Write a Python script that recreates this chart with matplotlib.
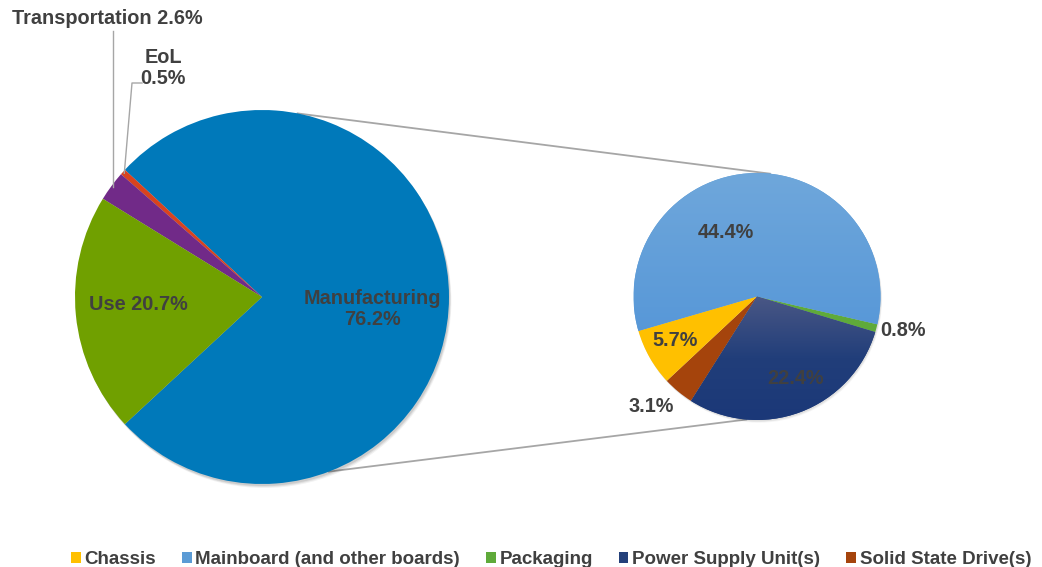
import matplotlib
matplotlib.use('Agg')
import matplotlib.pyplot as plt
import numpy as np
from matplotlib.patches import Circle, Patch
from matplotlib.colors import LinearSegmentedColormap

plt.rcParams['font.family'] = ['Liberation Sans', 'DejaVu Sans']

# ---------------- data ----------------
main_labels = ['Manufacturing', 'EoL', 'Transportation', 'Use']
main_values = [76.2, 0.5, 2.6, 20.7]
main_colors = ['#0079BA', '#D9431E', '#712A88', '#70A000']

sub_labels = ['Mainboard (and other boards)', 'Packaging', 'Power Supply Unit(s)',
              'Solid State Drive(s)', 'Chassis']
sub_values = [44.4, 0.8, 22.4, 3.1, 5.7]
sub_colors = ['#5B9BD5', '#5FAA3A', '#24407A', '#A5440C', '#FFC000']

legend_order = ['Chassis', 'Mainboard (and other boards)', 'Packaging',
                'Power Supply Unit(s)', 'Solid State Drive(s)']

TXT = '#404040'
LINE = '#A6A6A6'
FS = 14.3
FS_LEG = 13.5

W, H = 1042, 567
fig = plt.figure(figsize=(W / 100, H / 100), dpi=100)
ax = fig.add_axes([0, 0, 1, 1])
ax.set_autoscale_on(False)
ax.set_xlim(0, W)
ax.set_ylim(0, H)
ax.set_aspect('equal')
ax.axis('off')


def P(x, y):
    """pixel (top-left origin) -> data coords"""
    return (x, H - y)


L_c = P(262, 297)
L_r = 187
R_c = P(757, 296.5)
R_r = 123.5


def on_circle(c, r, ang, f=1.0):
    a = np.deg2rad(ang)
    return (c[0] + f * r * np.cos(a), c[1] + f * r * np.sin(a))


# connector lines (drawn first, beneath pies)
for la, ra in [(79, 84), (-69, -95)]:
    p1 = on_circle(L_c, L_r, la)
    p2 = on_circle(R_c, R_r, ra)
    ax.plot([p1[0], p2[0]], [p1[1], p2[1]], color=LINE, lw=1.3, zorder=1)

# soft shadows
for k, a in [(4, 0.05), (3, 0.07), (2, 0.09)]:
    ax.add_patch(Circle((L_c[0] + k * 0.6, L_c[1] - k), L_r, color='black',
                        alpha=a, lw=0, zorder=1.5))
    ax.add_patch(Circle((R_c[0] + k * 0.4, R_c[1] - k * 0.7), R_r, color='black',
                        alpha=a * 0.6, lw=0, zorder=1.5))

# ---------------- main pie ----------------
main_start = -main_values[0] / sum(main_values) * 360 / 2
wl, _ = ax.pie(main_values, colors=main_colors, startangle=main_start,
               center=L_c, radius=L_r, frame=True,
               wedgeprops=dict(linewidth=0, zorder=2))
for w in wl:
    w.set_zorder(2)

# ---------------- sub pie ----------------
sub_total = sum(sub_values)
sub_start = -13 + sub_values[0] / sub_total * 360
wr, _ = ax.pie(sub_values, colors=sub_colors, startangle=sub_start,
               counterclock=False, center=R_c, radius=R_r, frame=True,
               wedgeprops=dict(linewidth=0, zorder=2))
for w in wr:
    w.set_zorder(2)

# gradients on mainboard and PSU wedges
grad = np.linspace(0, 1, 256).reshape(-1, 1)
ext = [R_c[0] - R_r, R_c[0] + R_r, R_c[1] - R_r, R_c[1] + R_r]
cm_mb = LinearSegmentedColormap.from_list('mb', ['#4A8FD6', '#6FA7DB'])
im = ax.imshow(grad, cmap=cm_mb, extent=ext, origin='lower', aspect='auto',
               zorder=2.1, interpolation='bilinear')
im.set_clip_path(wr[0])
cm_psu = LinearSegmentedColormap.from_list('psu', ['#1B3878', '#213E7A', '#4A5785'])
ext2 = [R_c[0] - R_r, R_c[0] + R_r, R_c[1] - R_r, R_c[1]]
im2 = ax.imshow(grad, cmap=cm_psu, extent=ext2, origin='lower', aspect='auto',
                zorder=2.1, interpolation='bilinear')
im2.set_clip_path(wr[2])
ax.set_xlim(0, W)
ax.set_ylim(0, H)

tk = dict(fontsize=FS, fontweight='bold', color=TXT, ha='center', va='center',
          zorder=5, linespacing=1.1)

# ---------------- labels (main) ----------------
ax.text(*P(372, 309), f'{main_labels[0]}\n{main_values[0]}%', **tk)
ax.text(*P(138, 304), f'{main_labels[3]} {main_values[3]}%', **tk)
ax.text(*P(107, 19), f'{main_labels[2]} {main_values[2]}%', **tk)
ax.text(*P(163, 68), f'{main_labels[1]}\n{main_values[1]}%', **tk)

# leader lines
angs = np.cumsum([0] + main_values) / sum(main_values) * 360 + main_start
mid_tr = (angs[2] + angs[3]) / 2
mid_eol = (angs[1] + angs[2]) / 2
pt = on_circle(L_c, L_r, mid_tr, 0.99)
ax.plot([pt[0], pt[0]], [pt[1], P(0, 31)[1]], color=LINE, lw=1, zorder=4)
pe = on_circle(L_c, L_r, mid_eol, 0.99)
ax.plot([pe[0], P(132, 0)[0], P(142, 0)[0]], [pe[1], P(0, 83)[1], P(0, 83)[1]],
        color=LINE, lw=1, zorder=4)

# ---------------- labels (sub) ----------------
ax.text(*P(726, 232), f'{sub_values[0]}%', **tk)
ax.text(*P(903, 331), f'{sub_values[1]}%', **tk)
ax.text(*P(795, 378), f'{sub_values[2]}%', **tk)
ax.text(*P(651, 407), f'{sub_values[3]}%', **tk)
ax.text(*P(675, 341), f'{sub_values[4]}%', **tk)

# ---------------- legend ----------------
cmap_lookup = dict(zip(sub_labels, sub_colors))
handles = [Patch(facecolor=cmap_lookup[n], edgecolor='none', label=n) for n in legend_order]
leg = fig.legend(handles=handles, loc='center', bbox_to_anchor=(0.529, 0.013),
                 ncol=5, frameon=False, handlelength=0.5, handleheight=0.5,
                 handletextpad=0.2, columnspacing=1.4, borderpad=0,
                 prop=dict(size=FS_LEG, weight='bold'))
for t in leg.get_texts():
    t.set_color(TXT)

fig.savefig('out.png', dpi=100)
